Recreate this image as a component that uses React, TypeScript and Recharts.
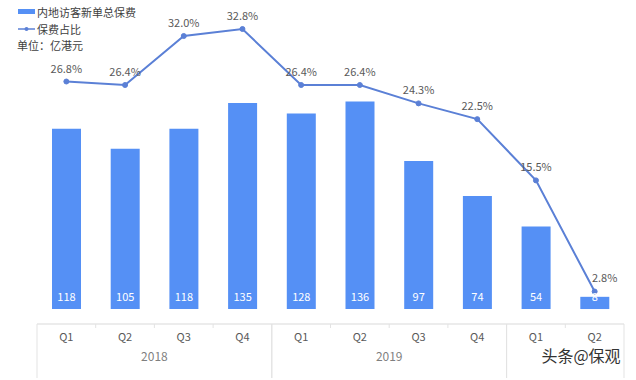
import React from 'react';
import { ComposedChart, Bar, Line, XAxis, YAxis, LabelList } from 'recharts';

const quarters = ['Q1', 'Q2', 'Q3', 'Q4', 'Q1', 'Q2', 'Q3', 'Q4', 'Q1', 'Q2'];
const years = ['2018', '2018', '2018', '2018', '2019', '2019', '2019', '2019', '2020', '2020'];
const yearLabels: Record<string, string> = { '2018': '2018', '2019': '2019', '2020': '' };
const premium = [118, 105, 118, 135, 128, 136, 97, 74, 54, 8];
const ratio = [26.8, 26.4, 32.0, 32.8, 26.4, 26.4, 24.3, 22.5, 15.5, 2.8];

const data = quarters.map((q, i) => ({ key: `${years[i]}-${q}`, q, year: years[i], premium: premium[i], ratio: ratio[i] }));

const W = 636;
const H = 380;
const X_AXIS_H = 30;
const M = { top: 20, right: 12, left: 37, bottom: 56 - X_AXIS_H };
const BAND = (W - M.left - M.right) / data.length;

const BAR_COLOR = '#5590f5';
const LINE_COLOR = '#5b80d6';
const FONT = '"Noto Sans CJK SC", "Noto Sans", sans-serif';

const QuarterTick = (props: any) => {
  const { x, y, index } = props;
  const d = data[index];
  const left = x - BAND / 2;
  const firstOfYear = index === 0 || data[index - 1].year !== d.year;
  const lastOfYear = index === data.length - 1 || data[index + 1].year !== d.year;
  let yearLabel: React.ReactNode = null;
  if (firstOfYear) {
    const count = data.filter((e) => e.year === d.year).length;
    const cx = left + (count * BAND) / 2;
    yearLabel = (
      <text x={cx} y={y + 37} textAnchor="middle" fill="#7f7f7f" fontSize={12} fontFamily={FONT}>
        {yearLabels[d.year]}
      </text>
    );
  }
  return (
    <g>
      {firstOfYear ? (
        <line x1={left} x2={left} y1={y} y2={y + 54} stroke="#e3e3e3" strokeWidth={1} />
      ) : (
        <line x1={left} x2={left} y1={y} y2={y + 4} stroke="#e3e3e3" strokeWidth={1} />
      )}
      {lastOfYear && <line x1={left + BAND} x2={left + BAND} y1={y} y2={y + 54} stroke="#e3e3e3" strokeWidth={1} />}
      <text x={x} y={y + 17} textAnchor="middle" fill="#595959" fontSize={11} fontFamily={FONT}>
        {d.q}
      </text>
      {yearLabel}
    </g>
  );
};

const RatioLabel = (props: any) => {
  const { x, y, value, index } = props;
  const last = index === data.length - 1;
  return (
    <text
      x={last ? x + 10 : x}
      y={last ? y - 10 : y - 9}
      textAnchor="middle"
      fill="#595959"
      fontSize={11}
      fontFamily={FONT}
    >
      {`${Number(value).toFixed(1)}%`}
    </text>
  );
};

const BarLabel = (props: any) => {
  const { x, y, width, height, value } = props;
  return (
    <text x={x + width / 2} y={y + height - 8} textAnchor="middle" fill="#ffffff" fontSize={11} fontFamily={FONT}>
      {value}
    </text>
  );
};

const LegendBox = () => (
  <div
    style={{
      position: 'absolute',
      left: 18,
      top: 3,
      fontFamily: FONT,
      fontSize: 11,
      color: '#404040',
      lineHeight: '16px',
      pointerEvents: 'none',
    }}
  >
    <div style={{ display: 'flex', alignItems: 'center', height: 17 }}>
      <span style={{ display: 'inline-block', width: 17, height: 5, background: BAR_COLOR, marginRight: 2 }} />
      <span>内地访客新单总保费</span>
    </div>
    <div style={{ display: 'flex', alignItems: 'center', height: 17 }}>
      <svg width={17} height={6} style={{ marginRight: 2 }}>
        <line x1={0} x2={17} y1={3} y2={3} stroke={LINE_COLOR} strokeWidth={1.5} />
        <circle cx={8.5} cy={3} r={2} fill={LINE_COLOR} />
      </svg>
      <span>保费占比</span>
    </div>
    <div style={{ height: 14, marginLeft: -1 }}>单位：亿港元</div>
  </div>
);

export default function App() {
  return (
    <div style={{ position: 'absolute', left: 0, top: 0, width: W, height: H, background: '#ffffff' }}>
      <ComposedChart width={W} height={H} data={data} margin={M} barCategoryGap="25%">
        <XAxis
          dataKey="key"
          height={X_AXIS_H}
          axisLine={{ stroke: '#d9d9d9' }}
          tickLine={false}
          tickSize={0}
          tickMargin={0}
          interval={0}
          tick={<QuarterTick />}
        />
        <YAxis yAxisId="bar" hide domain={[-9.8, 189.3]} allowDataOverflow />
        <YAxis yAxisId="pct" hide orientation="right" domain={[-0.914, 33.83]} allowDataOverflow />
        <Bar yAxisId="bar" dataKey="premium" fill={BAR_COLOR} barSize={29} isAnimationActive={false}>
          <LabelList dataKey="premium" content={<BarLabel />} />
        </Bar>
        <Line
          yAxisId="pct"
          dataKey="ratio"
          type="linear"
          stroke={LINE_COLOR}
          strokeWidth={2}
          dot={{ r: 2.5, fill: LINE_COLOR, stroke: LINE_COLOR, strokeWidth: 1 }}
          isAnimationActive={false}
        >
          <LabelList dataKey="ratio" content={<RatioLabel />} />
        </Line>
        <text
          x={581}
          y={362}
          textAnchor="middle"
          fontSize={16}
          fontFamily={FONT}
          fill="#333333"
          stroke="#ffffff"
          strokeWidth={3}
          paintOrder="stroke"
        >
          头条@保观
        </text>
      </ComposedChart>
      <LegendBox />
    </div>
  );
}
